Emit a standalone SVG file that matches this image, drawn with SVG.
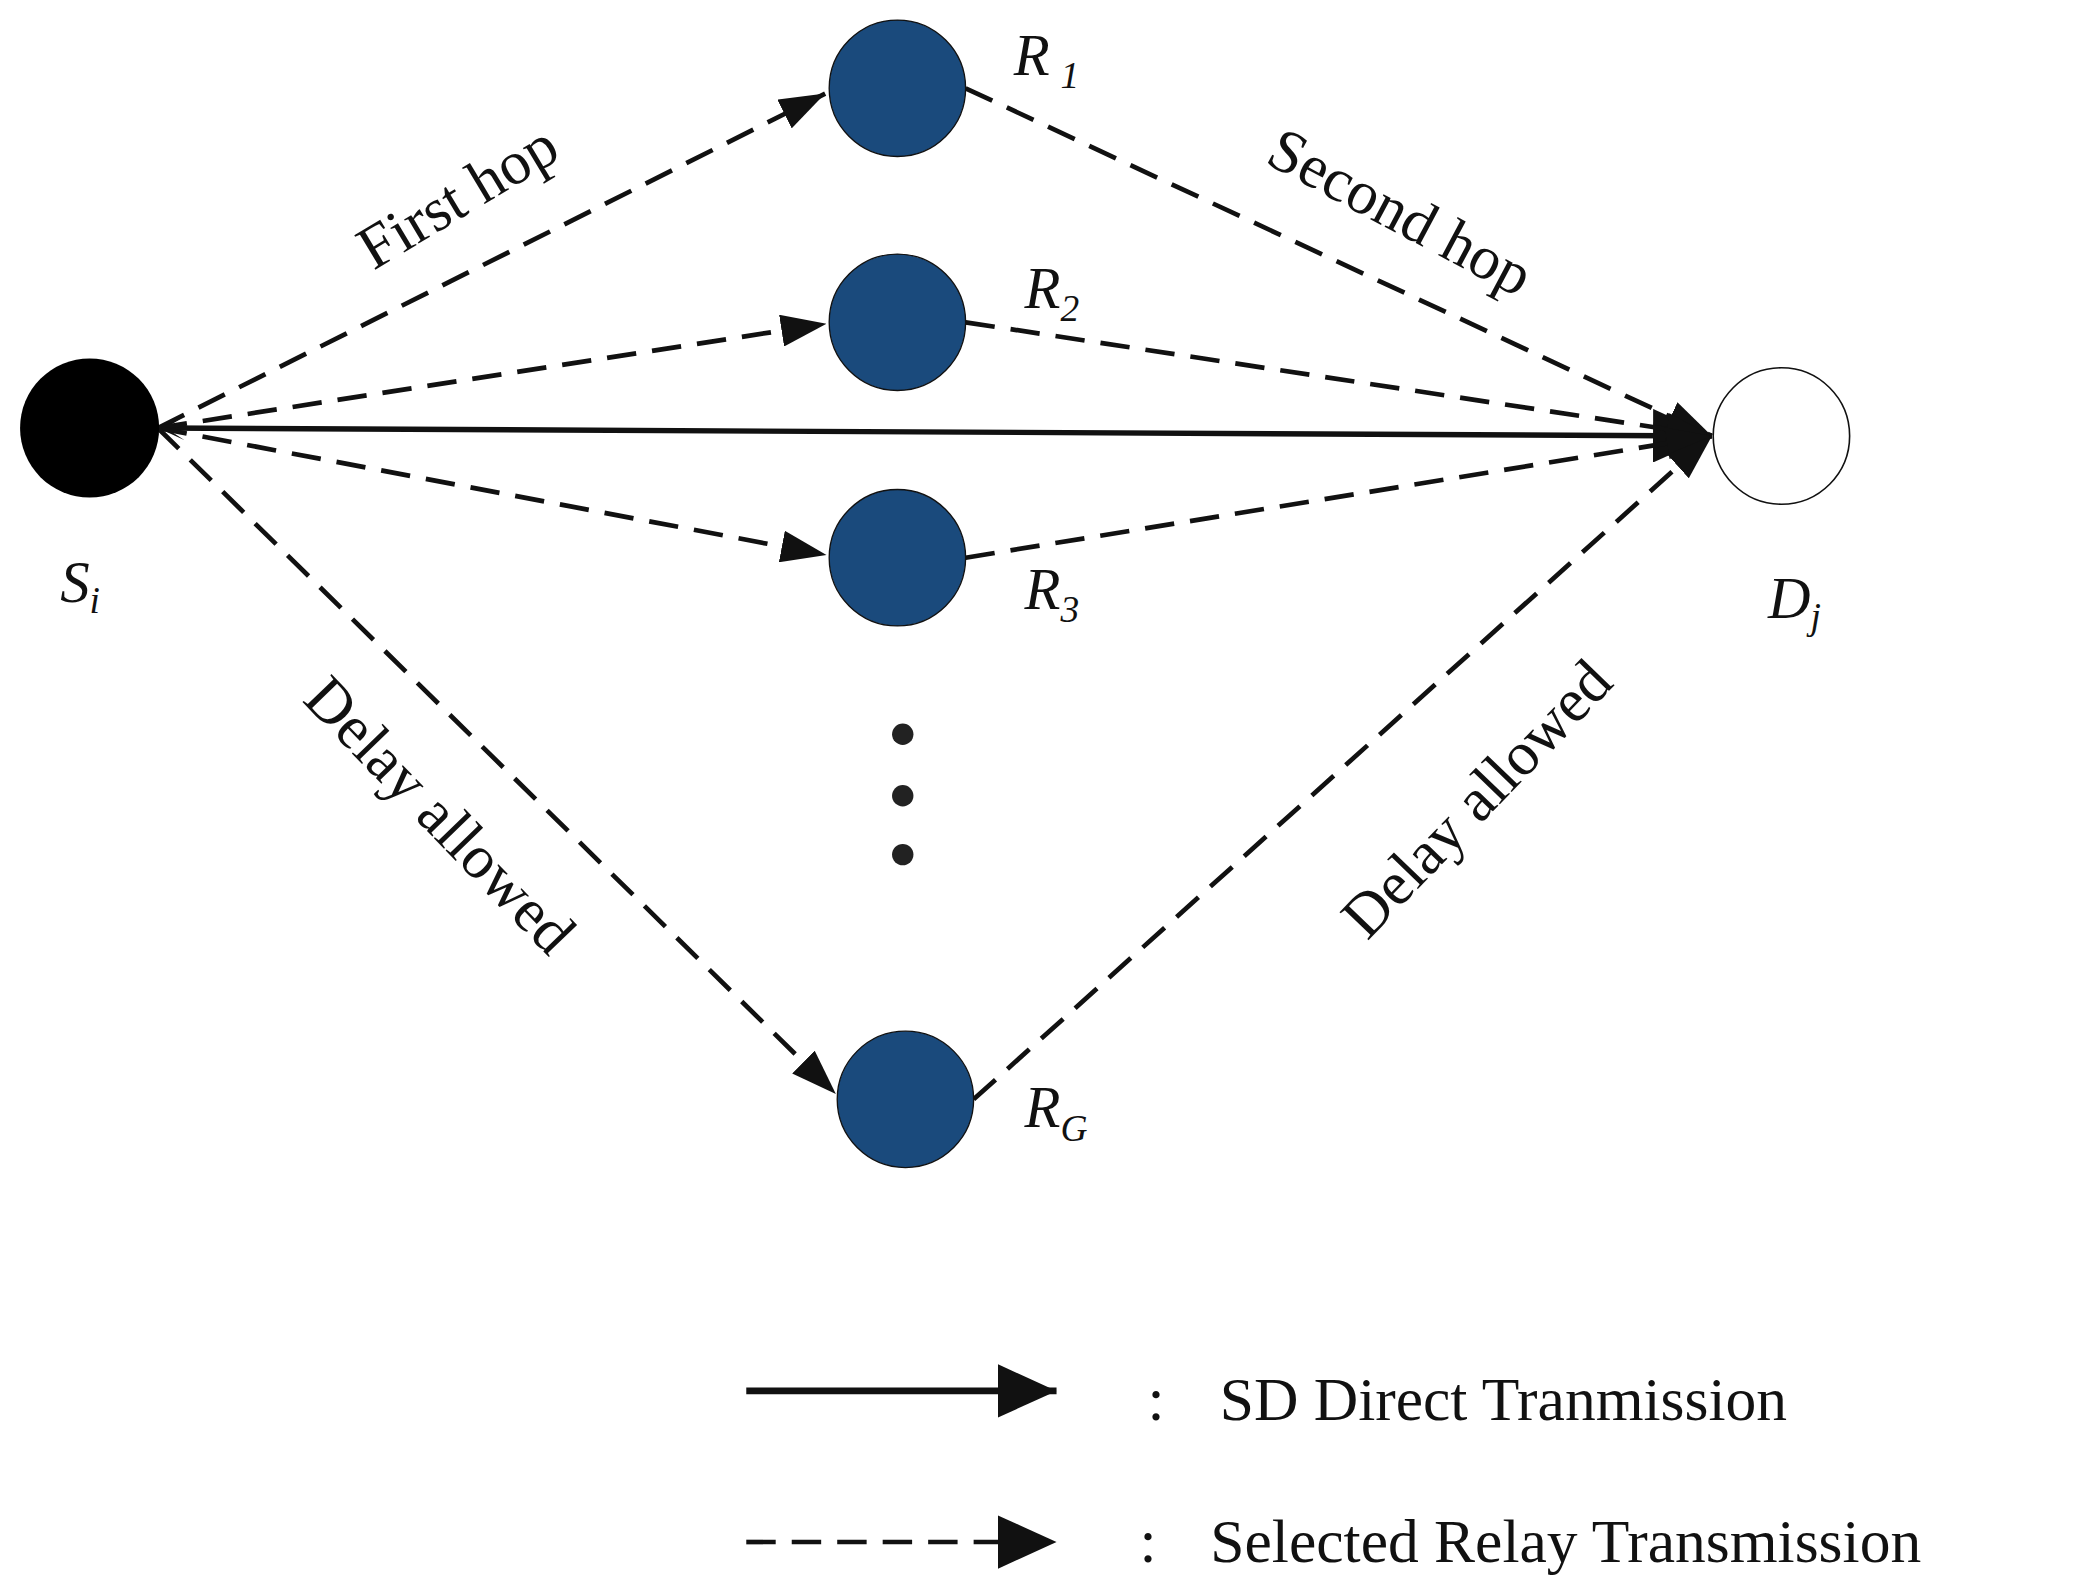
<svg xmlns="http://www.w3.org/2000/svg" width="2097" height="1587" viewBox="0 0 2097 1587">
<style>
.t{font-family:"Liberation Serif",serif;font-size:46px;fill:#111}
.i{font-family:"Liberation Serif",serif;font-style:italic;font-size:44px;fill:#111}
.s{font-family:"Liberation Serif",serif;font-style:italic;font-size:28px;fill:#111}
.d{stroke:#111;stroke-width:3.5;stroke-dasharray:22 12;fill:none}
.r{fill:#1a4a7c;stroke:#111;stroke-width:1}
</style>
<defs>
<marker id="a" viewBox="0 0 10 10" refX="10" refY="5" markerWidth="10" markerHeight="10" markerUnits="userSpaceOnUse" orient="auto"><path d="M0,0L10,5L0,10z" fill="#111"/></marker>
<marker id="b" viewBox="0 0 10 10" refX="10" refY="5" markerWidth="34" markerHeight="24" markerUnits="userSpaceOnUse" orient="auto" preserveAspectRatio="none"><path d="M0,0L10,5L0,10z" fill="#111"/></marker>
<marker id="c" viewBox="0 0 10 10" refX="10" refY="5" markerWidth="44" markerHeight="40" markerUnits="userSpaceOnUse" orient="auto" preserveAspectRatio="none"><path d="M0,0L10,5L0,10z" fill="#111"/></marker>
<marker id="l" viewBox="0 0 10 10" refX="0" refY="5" markerWidth="20" markerHeight="18" markerUnits="userSpaceOnUse" orient="auto" preserveAspectRatio="none"><path d="M10,0L0,5L10,10L3,5z" fill="#111"/></marker>
</defs>
<rect width="2097" height="1587" fill="#fff"/>
<g transform="scale(1.3374)">
<g id="connectors">
<line x1="118" y1="320" x2="1280" y2="326" stroke="#111" stroke-width="4" marker-start="url(#l)" marker-end="url(#c)"/>
<line class="d" x1="118" y1="320" x2="617" y2="70" marker-end="url(#b)"/>
<line class="d" x1="118" y1="320" x2="618" y2="242" marker-end="url(#b)"/>
<line class="d" x1="118" y1="320" x2="618" y2="415" marker-end="url(#b)"/>
<line class="d" x1="118" y1="320" x2="625" y2="818" marker-end="url(#b)"/>
<line class="d" x1="722" y1="66" x2="1280" y2="326" marker-end="url(#b)"/>
<line class="d" x1="722" y1="241" x2="1280" y2="326" marker-end="url(#b)"/>
<line class="d" x1="722" y1="417" x2="1280" y2="326" marker-end="url(#b)"/>
<line class="d" x1="728" y1="822" x2="1280" y2="326" marker-end="url(#b)"/>
</g>
<g id="S"><circle cx="67" cy="320" r="52" fill="#000"/><text class="i" x="45" y="450">S<tspan class="s" dy="8">i</tspan></text></g>
<g id="D"><circle cx="1332" cy="326" r="51" fill="#fff" stroke="#111" stroke-width="1.2"/><text class="i" x="1322" y="462">D<tspan class="s" dy="8">j</tspan></text></g>
<g id="R1"><circle class="r" cx="671" cy="66" r="51"/><text class="i" x="758" y="56">R<tspan class="s" dx="8" dy="10">1</tspan></text></g>
<g id="R2"><circle class="r" cx="671" cy="241" r="51"/><text class="i" x="766" y="230">R<tspan class="s" dy="10">2</tspan></text></g>
<g id="R3"><circle class="r" cx="671" cy="417" r="51"/><text class="i" x="766" y="455">R<tspan class="s" dy="10">3</tspan></text></g>
<g id="RG"><circle class="r" cx="677" cy="822" r="51"/><text class="i" x="766" y="843">R<tspan class="s" dy="10">G</tspan></text></g>
<g id="dots" fill="#222"><circle cx="675" cy="549" r="8"/><circle cx="675" cy="595" r="8"/><circle cx="675" cy="639" r="8"/></g>
<g id="labels">
<text class="t" text-anchor="middle" transform="translate(350,160) rotate(-31)">First hop</text>
<text class="t" text-anchor="middle" transform="translate(1040,172) rotate(28)">Second hop</text>
<text class="t" text-anchor="middle" transform="translate(318,620) rotate(46)">Delay allowed</text>
<text class="t" text-anchor="middle" transform="translate(1115,608) rotate(-46)">Delay allowed</text>
</g>
<g id="legend">
<line x1="558" y1="1040" x2="790" y2="1040" stroke="#111" stroke-width="5" marker-end="url(#c)"/>
<line class="d" x1="558" y1="1153" x2="790" y2="1153" marker-end="url(#c)"/>
<text class="t" x="858" y="1062">:</text>
<text class="t" x="912" y="1062">SD Direct Tranmission</text>
<text class="t" x="852" y="1168">:</text>
<text class="t" x="905" y="1168">Selected Relay Transmission</text>
</g>
</g>
</svg>
